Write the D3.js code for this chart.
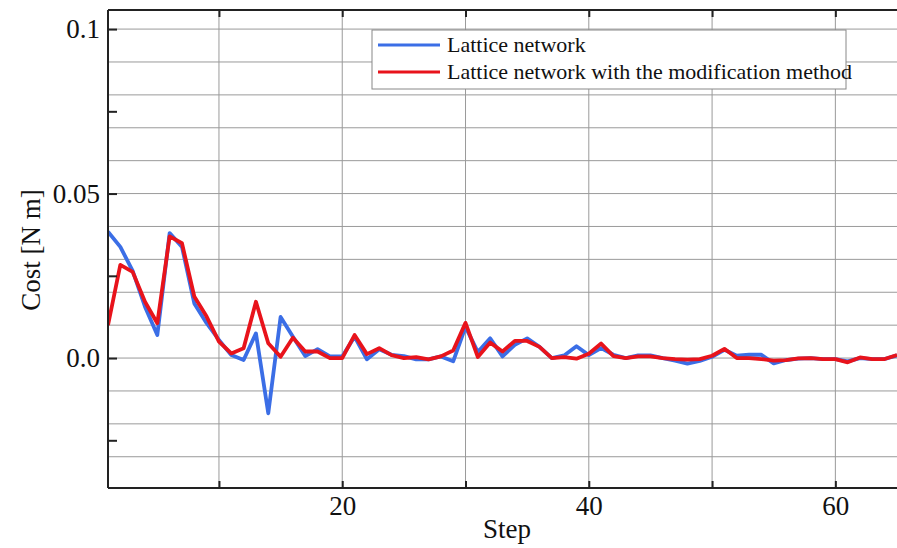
<!DOCTYPE html>
<html>
<head>
<meta charset="utf-8">
<script src="https://cdn.jsdelivr.net/npm/d3@7"></script>
<style>
body { margin: 0; background: #fff; }
text { font-family: "Liberation Serif", "Times New Roman", serif; fill: #111; }
.grid-line { stroke: #9a9a9a; stroke-width: 1; }
</style>
</head>
<body>
<script>
var steps = d3.range(1, 66);

var lattice = [0.0384, 0.0338, 0.0265, 0.0156, 0.0070, 0.0380, 0.0338, 0.0166, 0.0106, 0.0055,
	0.0009, -0.0006, 0.0075, -0.0168, 0.0125, 0.0065, 0.0006, 0.0027, 0.0005, 0.0005,
	0.0065, -0.0004, 0.0027, 0.0010, 0.0006, -0.0004, -0.0004, 0.0005, -0.0010, 0.0095,
	0.0018, 0.0060, 0.0005, 0.0040, 0.0060, 0.0034, 0.0000, 0.0008, 0.0036, 0.0009,
	0.0030, 0.0010, 0.0000, 0.0008, 0.0008, 0.0000, -0.0008, -0.0017, -0.0009, 0.0004,
	0.0025, 0.0007, 0.0010, 0.0010, -0.0016, -0.0006, -0.0002, 0.0000, -0.0003, -0.0003,
	-0.0010, 0.0000, -0.0003, -0.0003, 0.0008];

var modified = [0.0100, 0.0283, 0.0262, 0.0171, 0.0106, 0.0370, 0.0349, 0.0187, 0.0126, 0.0050,
	0.0014, 0.0030, 0.0171, 0.0045, 0.0004, 0.0062, 0.0020, 0.0020, 0.0000, 0.0000,
	0.0070, 0.0012, 0.0030, 0.0009, 0.0000, 0.0003, -0.0004, 0.0005, 0.0023, 0.0107,
	0.0003, 0.0047, 0.0020, 0.0052, 0.0052, 0.0034, 0.0000, 0.0003, -0.0002, 0.0013,
	0.0044, 0.0006, 0.0000, 0.0005, 0.0005, 0.0000, -0.0003, -0.0005, -0.0003, 0.0007,
	0.0028, 0.0000, 0.0000, -0.0003, -0.0008, -0.0006, -0.0001, 0.0000, -0.0003, -0.0003,
	-0.0013, 0.0002, -0.0003, -0.0003, 0.0009];

var xMajor = [20, 40, 60], xMinor = [10, 30, 50];
var yMajor = [0, 0.05, 0.1], yMinor = [-0.025, 0.025, 0.075];
var legendLabels = ["Lattice network", "Lattice network with the modification method"];
var colours = ["#3b6ee6", "#e8131b"];

var W = 897, H = 548;
var margin = { top: 10, right: 0, bottom: 60, left: 108 };
var width = W - margin.left - margin.right, height = H - margin.top - margin.bottom;

var svg = d3.select("body").append("svg")
	.attr("width", W)
	.attr("height", H)
	.append("g")
	.attr("transform", "translate(" + margin.left + "," + margin.top + ")");

var x = d3.scaleLinear().domain([1, 65]).range([0, width]);
var y = d3.scaleLinear().domain([-0.0395, 0.1058]).range([height, 0]);

svg.append("defs").append("clipPath")
	.attr("id", "clip")
	.append("rect")
	.attr("width", width)
	.attr("height", height);

// grid
svg.append("g").selectAll("line")
	.data(d3.range(-3, 11).map(d => d / 100))
	.enter().append("line")
	.attr("class", "grid-line")
	.attr("x1", 0).attr("x2", width)
	.attr("y1", d => y(d)).attr("y2", d => y(d));

svg.append("g").selectAll("line")
	.data(d3.range(10, 70, 10))
	.enter().append("line")
	.attr("class", "grid-line")
	.attr("y1", 0).attr("y2", height)
	.attr("x1", d => x(d)).attr("x2", d => x(d));

// lines
var line = d3.line()
	.x((d, i) => x(steps[i]))
	.y(d => y(d));

svg.append("g")
	.attr("clip-path", "url(#clip)")
	.selectAll("path")
	.data([lattice, modified])
	.enter().append("path")
	.attr("d", d => line(d))
	.style("fill", "none")
	.style("stroke", (d, i) => colours[i])
	.style("stroke-width", 3.8)
	.style("stroke-linejoin", "round");

// frame
var frame = svg.append("g").style("stroke", "#222").style("stroke-width", 2);
frame.append("line").attr("x1", 0).attr("x2", 0).attr("y1", 0).attr("y2", height);
frame.append("line").attr("x1", 0).attr("x2", width).attr("y1", height).attr("y2", height);
frame.append("line").attr("x1", 0).attr("x2", width).attr("y1", 0).attr("y2", 0);

// axes, inward ticks
var xAxis = d3.axisBottom(x).tickValues(xMajor).tickSize(-7).tickPadding(8).tickFormat(d3.format("d"));
var xAxisMinor = d3.axisBottom(x).tickValues(xMinor).tickSize(-7).tickFormat("");
var xTop = d3.axisTop(x).tickValues(xMajor.concat(xMinor)).tickSize(-7).tickFormat("");
var yAxis = d3.axisLeft(y).tickValues(yMajor).tickSize(-9).tickPadding(8).tickFormat(d => d === 0 ? "0.0" : d === 0.1 ? "0.1" : d3.format(".2f")(d));
var yAxisMinor = d3.axisLeft(y).tickValues(yMinor).tickSize(-9).tickFormat("");

[svg.append("g").attr("transform", "translate(0," + height + ")").call(xAxis),
	svg.append("g").attr("transform", "translate(0," + height + ")").call(xAxisMinor),
	svg.append("g").call(xTop),
	svg.append("g").call(yAxis),
	svg.append("g").call(yAxisMinor)].forEach(g => {
	g.select(".domain").remove();
	g.selectAll(".tick line").style("stroke", "#222").style("stroke-width", 2);
	g.selectAll(".tick text").style("font-size", "27px").style("font-family", "Liberation Serif").style("fill", "#111");
});

svg.append("text")
	.attr("x", 507 - margin.left)
	.attr("y", height + 50)
	.attr("text-anchor", "middle")
	.style("font-size", "27px")
	.text("Step");

svg.append("text")
	.attr("transform", "rotate(-90) translate(" + [-240, -68] + ")")
	.attr("text-anchor", "middle")
	.style("font-size", "27px")
	.text("Cost [N m]");

// legend
var legend = svg.append("g").attr("transform", "translate(" + (372 - margin.left) + "," + (30 - margin.top) + ")");
legend.append("rect")
	.attr("width", 474).attr("height", 59)
	.style("fill", "#fff").style("stroke", "#888").style("stroke-width", 1);

var items = legend.selectAll("g.item")
	.data(legendLabels)
	.enter().append("g")
	.attr("transform", (d, i) => "translate(0," + (15 + i * 27) + ")");
items.append("line")
	.attr("x1", 6).attr("x2", 68)
	.style("stroke", (d, i) => colours[i])
	.style("stroke-width", 3);
items.append("text")
	.attr("x", 75).attr("dy", 7)
	.style("font-size", "22px")
	.text(d => d);
</script>
</body>
</html>
